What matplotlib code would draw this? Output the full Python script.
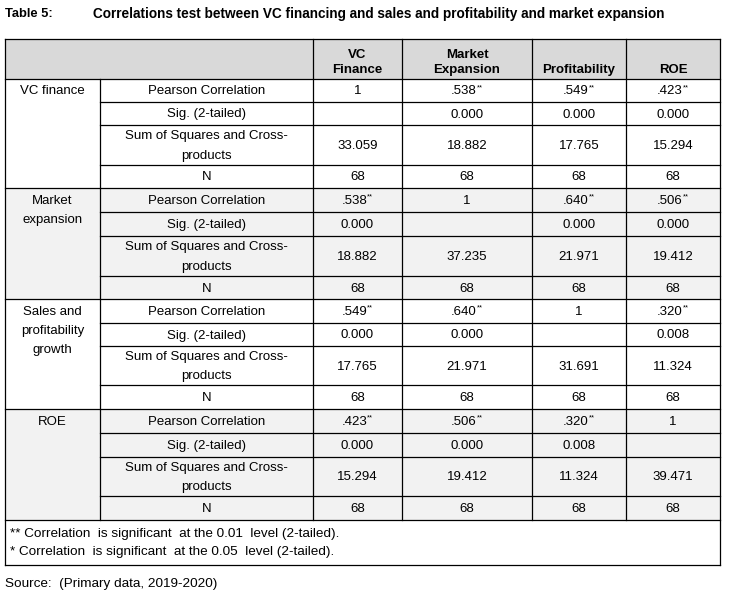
import matplotlib.pyplot as plt
from matplotlib.patches import Rectangle

plt.rcParams['font.family'] = ['Liberation Sans', 'DejaVu Sans']

# table content
title_no = "Table 5:"
title_txt = "Correlations test between VC financing and sales and profitability and market expansion"
col_headers = ["VC\nFinance", "Market\nExpansion", "Profitability", "ROE"]
groups = ["VC finance", "Market\nexpansion", "Sales and\nprofitability\ngrowth", "ROE"]
stats = ["Pearson Correlation", "Sig. (2-tailed)", "Sum of Squares and Cross-\nproducts", "N"]

pearson = [["1", ".538", ".549", ".423"],
           [".538", "1", ".640", ".506"],
           [".549", ".640", "1", ".320"],
           [".423", ".506", ".320", "1"]]
sig = [["", "0.000", "0.000", "0.000"],
       ["0.000", "", "0.000", "0.000"],
       ["0.000", "0.000", "", "0.008"],
       ["0.000", "0.000", "0.008", ""]]
sscp = [["33.059", "18.882", "17.765", "15.294"],
        ["18.882", "37.235", "21.971", "19.412"],
        ["17.765", "21.971", "31.691", "11.324"],
        ["15.294", "19.412", "11.324", "39.471"]]
n_obs = [["68", "68", "68", "68"]] * 4

notes = ["** Correlation  is significant  at the 0.01  level (2-tailed).",
         "* Correlation  is significant  at the 0.05  level (2-tailed)."]
source = "Source:  (Primary data, 2019-2020)"

# layout in pixels
W, H = 729, 596
xs = [5, 100, 313, 402, 532, 626, 720]
head_top, head_bot = 39, 79
row_edges = [[79, 102, 125, 165, 188],
             [188, 212, 236, 276, 299],
             [299, 323, 346, 385, 409],
             [409, 433, 457, 496, 520]]
foot_bot = 565
group_fill = ["white", "#f2f2f2", "white", "#f2f2f2"]
lw = 0.9
fs = 9.5

fig = plt.figure(figsize=(W / 100, H / 100), dpi=100)
ax = fig.add_axes([0, 0, 1, 1])
ax.set_xlim(0, W)
ax.set_ylim(H, 0)
ax.axis('off')

# title
ax.text(5, 14, title_no, fontsize=9.3, fontweight='bold', va='center', ha='left')
ax.text(93, 14, title_txt, fontsize=9.85, fontweight='bold', va='center', ha='left')

# header band
ax.add_patch(Rectangle((xs[0], head_top), xs[-1] - xs[0], head_bot - head_top,
                       facecolor="#d9d9d9", edgecolor='none'))
for j, h in enumerate(col_headers):
    cx = (xs[j + 2] + xs[j + 3]) / 2
    ax.text(cx, head_bot - 3, h, fontsize=fs, fontweight='bold', ha='center', va='bottom',
            linespacing=1.3)

# body
for g in range(4):
    edges = row_edges[g]
    ax.add_patch(Rectangle((xs[0], edges[0]), xs[-1] - xs[0], edges[-1] - edges[0],
                           facecolor=group_fill[g], edgecolor='none'))
    ax.text((xs[0] + xs[1]) / 2, (edges[0] + edges[1]) / 2 - 5, groups[g], fontsize=fs,
            ha='center', va='top', linespacing=1.78)
    vals = [pearson[g], sig[g], sscp[g], n_obs[g]]
    for r in range(4):
        cy = (edges[r] + edges[r + 1]) / 2
        ax.text((xs[1] + xs[2]) / 2, cy + 1, stats[r], fontsize=fs, ha='center', va='center',
                linespacing=1.85)
        for c in range(4):
            v = vals[r][c]
            if v == "":
                continue
            cx = (xs[c + 2] + xs[c + 3]) / 2
            if r == 0 and v != "1":
                t = ax.text(cx - 3, cy + 1, v, fontsize=fs, ha='center', va='center')
                ax.annotate("**", xy=(1, 1), xycoords=t, fontsize=5.5, ha='left', va='top',
                            xytext=(0, 1), textcoords='offset points')
            else:
                ax.text(cx, cy + 1, v, fontsize=fs, ha='center', va='center')
        # horizontal lines inside the group (from stats column)
        if r < 3:
            ax.plot([xs[1], xs[-1]], [edges[r + 1]] * 2, color='black', lw=lw)
    ax.plot([xs[0], xs[-1]], [edges[-1]] * 2, color='black', lw=lw)

# grid lines
ax.plot([xs[0], xs[-1]], [head_top] * 2, color='black', lw=lw)
ax.plot([xs[0], xs[-1]], [head_bot] * 2, color='black', lw=lw)
ax.plot([xs[0], xs[0]], [head_top, foot_bot], color='black', lw=lw)
ax.plot([xs[-1], xs[-1]], [head_top, foot_bot], color='black', lw=lw)
ax.plot([xs[1], xs[1]], [head_bot, row_edges[-1][-1]], color='black', lw=lw)
for x in xs[2:-1]:
    ax.plot([x, x], [head_top, row_edges[-1][-1]], color='black', lw=lw)
ax.plot([xs[0], xs[-1]], [foot_bot] * 2, color='black', lw=lw)

# footnotes and source
ax.text(10, 534, notes[0], ha='left', va='center', fontsize=9.7)
ax.text(10, 552, notes[1], ha='left', va='center', fontsize=9.7)
ax.text(5, 584, source, ha='left', va='center', fontsize=9.7)

fig.savefig("out.png", dpi=100)
